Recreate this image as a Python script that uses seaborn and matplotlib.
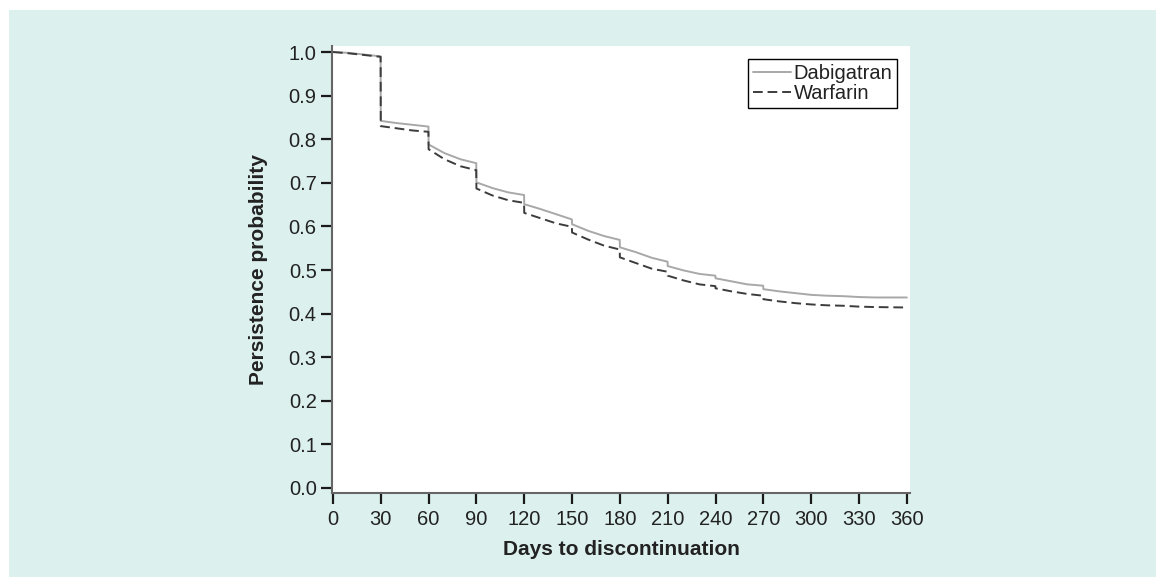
import pandas as pd
import matplotlib.pyplot as plt
import matplotlib.patches as mpatches
import seaborn as sns

# Persistence values (pre-drop points at x.9)
days = [0, 10, 20, 29.9, 30, 40, 50, 59.9, 60, 70, 80, 89.9, 90, 100, 110,
        119.9, 120, 130, 140, 149.9, 150, 160, 170, 179.9, 180, 190, 200,
        209.9, 210, 220, 230, 239.9, 240, 250, 260, 269.9, 270, 280, 290,
        300, 310, 320, 330, 340, 360]

dabigatran = [1.000, 0.998, 0.994, 0.990, 0.842, 0.837, 0.833, 0.829, 0.788,
              0.768, 0.754, 0.745, 0.701, 0.688, 0.678, 0.672, 0.651, 0.640,
              0.628, 0.616, 0.605, 0.590, 0.578, 0.569, 0.552, 0.541, 0.528,
              0.519, 0.509, 0.499, 0.491, 0.487, 0.481, 0.474, 0.467, 0.464,
              0.456, 0.451, 0.447, 0.443, 0.441, 0.440, 0.438, 0.437, 0.437]

warfarin = [1.000, 0.997, 0.993, 0.989, 0.830, 0.825, 0.820, 0.817, 0.777,
            0.754, 0.738, 0.729, 0.687, 0.671, 0.660, 0.654, 0.631, 0.619,
            0.607, 0.599, 0.586, 0.570, 0.556, 0.547, 0.529, 0.516, 0.503,
            0.496, 0.487, 0.476, 0.467, 0.463, 0.458, 0.451, 0.445, 0.441,
            0.433, 0.428, 0.424, 0.421, 0.419, 0.418, 0.416, 0.415, 0.414]

x_ticks = list(range(0, 361, 30))
y_ticks = [0.0, 0.1, 0.2, 0.3, 0.4, 0.5, 0.6, 0.7, 0.8, 0.9, 1.0]

df = pd.DataFrame({"days": days, "Dabigatran": dabigatran, "Warfarin": warfarin})

sns.set_style("white")
plt.rcParams['font.family'] = ['Liberation Sans', 'DejaVu Sans']

fig = plt.figure(figsize=(11.56, 5.77), dpi=100)
fig.patch.set_facecolor("white")
# light cyan panel behind the chart
fig.patches.append(mpatches.Rectangle((9 / 1156, 0), 1, 1 - 10 / 577,
                                      transform=fig.transFigure,
                                      facecolor="#dcf0ee", edgecolor="none",
                                      zorder=-10))

ax = fig.add_axes([332 / 1156, 1 - 493 / 577, 578 / 1156, 447 / 577])
ax.set_facecolor("white")

sns.lineplot(data=df, x="days", y="Dabigatran", ax=ax, color="#a8a8a8",
             linewidth=1.4, label="Dabigatran")
sns.lineplot(data=df, x="days", y="Warfarin", ax=ax, color="#3c3c3c",
             linewidth=1.4, linestyle=(0, (5, 2.5)), label="Warfarin")

ax.set_xlim(-0.6, 362)
ax.set_ylim(-0.0115, 1.0138)
ax.set_xticks(x_ticks)
ax.set_yticks(y_ticks)
ax.set_yticklabels([f"{v:.1f}" for v in y_ticks])

for side in ["top", "right"]:
    ax.spines[side].set_visible(False)
for side in ["left", "bottom"]:
    ax.spines[side].set_color("#666666")
    ax.spines[side].set_linewidth(1.5)

ax.tick_params(axis="both", which="major", direction="out", length=8,
               width=1.6, color="#1a1a1a", labelsize=14.5,
               labelcolor="#222222", left=True, bottom=True)
ax.tick_params(axis="x", pad=4)
ax.tick_params(axis="y", pad=3)

ax.set_xlabel("Days to discontinuation", fontsize=15, fontweight="bold",
              color="#222222", labelpad=8)
ax.set_ylabel("Persistence probability", fontsize=15, fontweight="bold",
              color="#222222", labelpad=15)

leg = ax.legend(loc="upper right", bbox_to_anchor=(0.978, 0.97),
                frameon=True, fancybox=False, edgecolor="black",
                framealpha=1, fontsize=14.5, handlelength=1.9,
                handletextpad=0.1, borderpad=0.25, labelspacing=0.05,
                borderaxespad=0)
leg.get_frame().set_linewidth(1.0)
for t in leg.get_texts():
    t.set_color("#222222")

plt.savefig("out.png", dpi=100, facecolor=fig.get_facecolor())
